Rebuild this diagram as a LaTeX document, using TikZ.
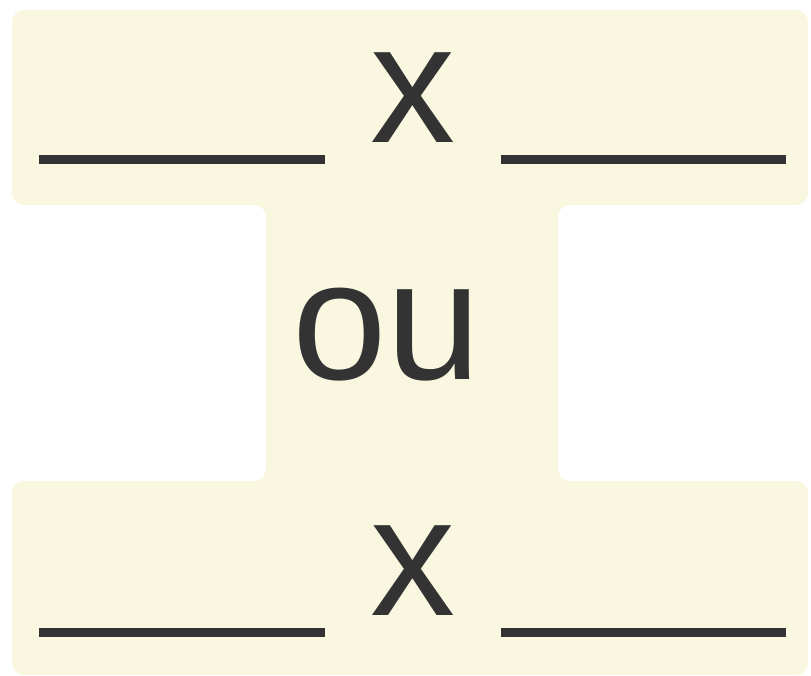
\documentclass[tikz,border=0pt]{standalone}
\usepackage{fontspec}
\setmainfont{Liberation Sans}
\usepackage{tikz}
\usetikzlibrary{positioning,calc}
\definecolor{creme}{HTML}{F9F7E0}
\definecolor{encre}{HTML}{333333}
\tikzset{
  blanc/.style={line width=9pt,draw=encre},
  grand/.style={font=\fontsize{170}{170}\selectfont,text=encre,inner sep=0pt,anchor=base}
}
\begin{document}
\begin{tikzpicture}[x=1pt,y=-1pt]
  \useasboundingbox (0,0) rectangle (811,676);
  % fond en forme de I
  \fill[creme,rounded corners=12pt] (12,10) -- (808,10) -- (808,205) -- (558,205) -- (558,481)
    -- (808,481) -- (808,675) -- (12,675) -- (12,481) -- (266,481) -- (266,205) -- (12,205) -- cycle;
  \node[grand] (x1) at (412.5,143) {x};
  \node[grand] (ou) at (387,379) {ou};
  \node[grand] (x2) at (412.5,615) {x};
  % traits
  \draw[blanc] (39,160) coordinate (a1) -- (325,160) coordinate (b1);
  \draw[blanc] (501,160) coordinate (c1) -- (786,160) coordinate (d1);
  \draw[blanc] (39,632) coordinate (a2) -- (325,632) coordinate (b2);
  \draw[blanc] (501,632) coordinate (c2) -- (786,632) coordinate (d2);
\end{tikzpicture}
\end{document}
